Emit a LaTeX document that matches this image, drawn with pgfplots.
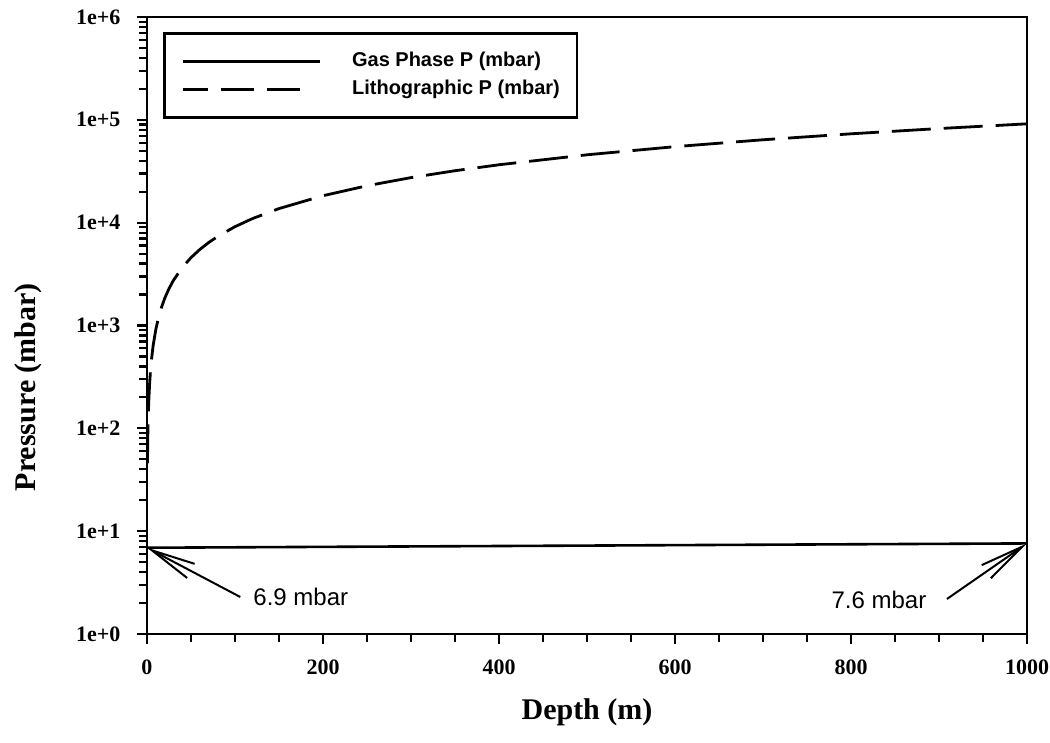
\documentclass[border=0pt]{standalone}
\usepackage{fontspec}
\setmainfont{Liberation Serif}
\newfontfamily\arial{Liberation Sans}
\usepackage{pgfplots}
\usepackage{pgfplotstable}
\pgfplotsset{compat=1.18}
\usetikzlibrary{arrows.meta}

\pgfplotsset{
  gasimg/.style={legend image code/.code={\draw[##1] (0pt,0pt) -- (68.5pt,0pt); \path (84pt,0pt);}},
  lithimg/.style={legend image code/.code={\draw[##1, dash pattern=on 16.5pt off 6.5pt, dash phase=4pt] (0pt,0pt) -- (62pt,0pt); \path (84pt,0pt);}},
}

\pgfplotstableread{
d p
0.5 45.7
1 91.4
1.5 137
2 183
3 274
4 366
5 457
7 640
10 914
13 1188
16 1462
20 1828
25 2285
30 2742
40 3656
50 4570
60 5484
70 6398
80 7312
100 9140
120 10968
150 13710
200 18280
250 22850
300 27420
350 31990
400 36560
500 45700
600 54840
700 63980
800 73120
900 82260
1000 91400
}\litho

\pgfplotstableread{
d p
0 6.9
250 7.07
500 7.24
750 7.42
1000 7.6
}\gas

\begin{document}
\begin{tikzpicture}
\useasboundingbox (-73.5pt,-54.5pt) rectangle (451.5pt,317pt);
\begin{axis}[
  at={(0pt,0pt)}, anchor=south west,
  scale only axis, width=440pt, height=308.5pt,
  ymode=log, xmin=0, xmax=1000, ymin=1, ymax=1e6,
  clip=false,
  axis line style={line width=1.3pt},
  tick pos=left, tick align=outside,
  every tick/.style={black, line width=1.1pt},
  major tick length=5pt, minor tick length=4pt,
  xtick={0,200,400,600,800,1000},
  xticklabels={0,200,400,600,800,1000},
  minor xtick={50,100,150,250,300,350,450,500,550,650,700,750,850,900,950},
  ytick={1,10,100,1000,10000,100000,1000000},
  yticklabels={1e+0,1e+1,1e+2,1e+3,1e+4,1e+5,1e+6},
  minor ytick={2,3,4,5,6,7,8,9,20,30,40,50,60,70,80,90,200,300,400,500,600,700,800,900,2000,3000,4000,5000,6000,7000,8000,9000,20000,30000,40000,50000,60000,70000,80000,90000,200000,300000,400000,500000,600000,700000,800000,900000},
  ticklabel style={font=\fontsize{11}{13}\selectfont\bfseries},
  xticklabel style={yshift=-4.5pt},
  yticklabel style={xshift=-4.8pt},
  xlabel={Depth (m)},
  ylabel={Pressure (mbar)},
  label style={font=\fontsize{15}{18}\selectfont\bfseries},
  xlabel style={at={(axis description cs:0.5,0)}, anchor=center, yshift=-39pt},
  ylabel style={at={(axis description cs:-0.1352,0.40)}, anchor=center},
  legend style={
    at={(axis description cs:0.01818,0.9757)}, anchor=north west,
    draw=black, line width=1.3pt,
    font=\arial\bfseries\fontsize{10}{12}\selectfont,
    inner xsep=8.5pt, inner ysep=9pt,
    column sep=0pt, row sep=4pt,
    nodes={inner sep=0pt, text height=7.5pt, text depth=2.5pt},
  },
  legend cell align=left,
]
\addplot[black, line width=1.3pt, solid, gasimg]
  table[x=d, y=p] {\gas};
\addlegendentry{Gas Phase P (mbar)}
\addplot[black, line width=1.4pt, dash pattern=on 19.5pt off 6.5pt, lithimg]
  table[x=d, y=p] {\litho};
\addlegendentry{Lithographic P (mbar)}

\draw[line width=1pt, -{Straight Barb[length=22pt, width=8pt, line width=1pt]}]
  (axis cs:106,2.29) -- (axis cs:0,6.9);
\draw[line width=1pt, -{Straight Barb[length=22pt, width=8pt, line width=1pt]}]
  (axis cs:909,2.19) -- (axis cs:1000,7.6);
\node[anchor=west, inner sep=0pt, font=\arial\fontsize{12}{14}\selectfont] at (axis cs:120.5,2.29) {6.9 mbar};
\node[anchor=east, inner sep=0pt, font=\arial\fontsize{12}{14}\selectfont] at (axis cs:886,2.14) {7.6 mbar};
\end{axis}
\end{tikzpicture}
\end{document}
